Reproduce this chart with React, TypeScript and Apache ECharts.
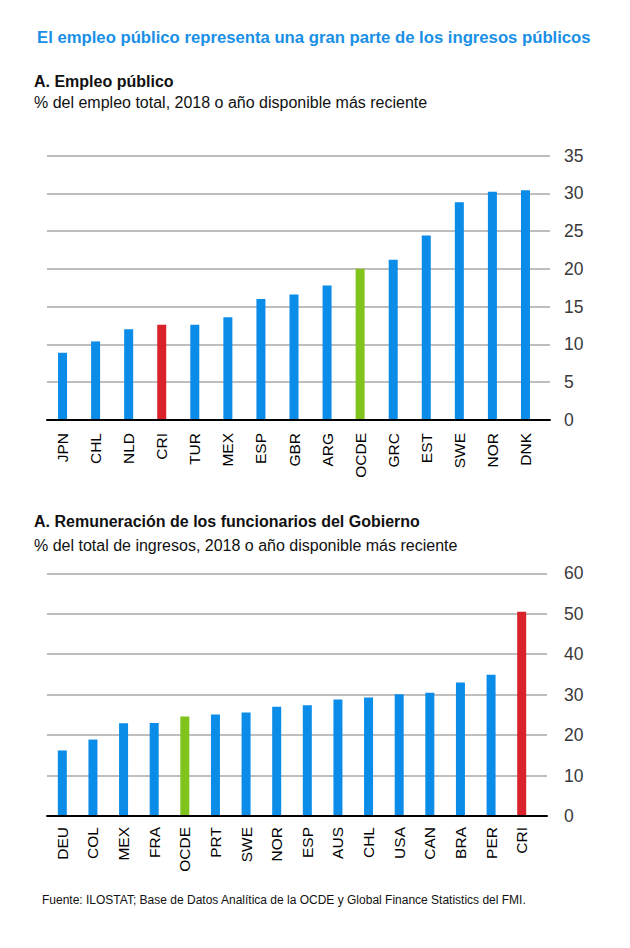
import React, { useEffect, useRef } from "react";
import * as echarts from "echarts";

const cats1 = ["JPN", "CHL", "NLD", "CRI", "TUR", "MEX", "ESP", "GBR", "ARG", "OCDE", "GRC", "EST", "SWE", "NOR", "DNK"];
const vals1 = [8.9, 10.4, 12.0, 12.6, 12.6, 13.6, 16.0, 16.6, 17.8, 20.0, 21.2, 24.4, 28.8, 30.2, 30.4];
const cats2 = ["DEU", "COL", "MEX", "FRA", "OCDE", "PRT", "SWE", "NOR", "ESP", "AUS", "CHL", "USA", "CAN", "BRA", "PER", "CRI"];
const vals2 = [16.2, 18.9, 22.9, 23.0, 24.6, 25.1, 25.6, 27.0, 27.4, 28.8, 29.3, 30.1, 30.5, 33.0, 34.9, 50.5];

const BLUE = "#0A8CE8";
const RED = "#D9222B";
const GREEN = "#7FC31C";
const FONT = "'Liberation Sans', Arial, sans-serif";

function colorFor(c: string) {
  if (c === "CRI") return RED;
  if (c === "OCDE") return GREEN;
  return BLUE;
}

export default function App() {
  const ref = useRef<HTMLDivElement>(null);
  useEffect(() => {
    if (!ref.current) return;
    const chart = echarts.init(ref.current, null, { renderer: "svg" });
    const yLines = (grid: number, max: number, interval: number, margin: number) => ({
      type: "value",
      gridIndex: grid,
      position: "right",
      min: 0, max, interval,
      axisLine: { show: false },
      axisTick: { show: false },
      axisLabel: { color: "#3a3a3a", fontSize: 17.5, fontFamily: FONT, margin },
      splitLine: { lineStyle: { color: "#A8A8A8", width: 1.5 } },
    });
    const yHidden = (grid: number, max: number) => ({
      type: "value", gridIndex: grid, min: 0, max,
      show: false, splitLine: { show: false },
    });
    const xLine = (grid: number, data: string[]) => ({
      type: "category", gridIndex: grid, data,
      axisLine: { lineStyle: { color: "#000", width: 2 } },
      axisTick: { show: false },
      axisLabel: { show: false },
      z: 5,
    });
    const xLabels = (grid: number, data: string[], margin: number) => ({
      type: "category", gridIndex: grid, data,
      axisLine: { show: false },
      axisTick: { show: false },
      axisLabel: { color: "#000", fontSize: 15.5, fontFamily: FONT, rotate: 90, margin, interval: 0 },
    });
    const T = (text: string, left: number, top: number, size: number, weight: string, color = "#111") => ({
      text, left, top, padding: 0,
      textStyle: { color, fontSize: size, fontWeight: weight, fontFamily: FONT },
    });
    chart.setOption({
      animation: false,
      textStyle: { fontFamily: FONT },
      title: [
        T("El empleo público representa una gran parte de los ingresos públicos", 37, 29, 16.7, "bold", "#1A8FE6"),
        T("A. Empleo público", 34, 73, 16, "bold"),
        T("% del empleo total, 2018 o año disponible más reciente", 34, 94, 16, "normal"),
        T("A. Remuneración de los funcionarios del Gobierno", 34, 513, 16, "bold"),
        T("% del total de ingresos, 2018 o año disponible más reciente", 34, 537, 16, "normal"),
        T("Fuente: ILOSTAT; Base de Datos Analítica de la OCDE y Global Finance Statistics del FMI.", 42, 894, 12, "normal"),
      ],
      grid: [
        { left: 47, right: 80, top: 155.5, height: 264.5 },
        { left: 46, right: 88, top: 155.5, height: 264.5 },
        { left: 47, right: 83, top: 573.3, height: 242.7 },
        { left: 47, right: 93, top: 573.3, height: 242.7 },
      ],
      xAxis: [
        xLine(0, cats1),
        xLabels(1, cats1, 13),
        xLine(2, cats2),
        xLabels(3, cats2, 11),
      ],
      yAxis: [
        yLines(0, 35, 5, 14),
        yHidden(1, 35),
        yLines(2, 60, 10, 17),
        yHidden(3, 60),
      ],
      series: [
        {
          type: "bar", xAxisIndex: 1, yAxisIndex: 1, barWidth: 9,
          data: vals1.map((v, i) => ({ value: v, itemStyle: { color: colorFor(cats1[i]) } })),
        },
        {
          type: "bar", xAxisIndex: 3, yAxisIndex: 3, barWidth: 9,
          data: vals2.map((v, i) => ({ value: v, itemStyle: { color: colorFor(cats2[i]) } })),
        },
      ],
    });
    return () => chart.dispose();
  }, []);
  return <div ref={ref} style={{ position: "fixed", left: 0, top: 0, width: 630, height: 948, background: "#fff" }} />;
}
